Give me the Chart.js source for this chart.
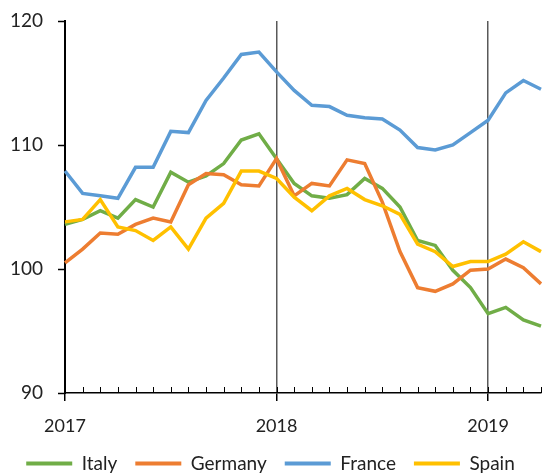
<!DOCTYPE html>
<html>
<head>
<meta charset="utf-8">
<script src="https://cdn.jsdelivr.net/npm/chart.js@4/dist/chart.umd.min.js"></script>
<style>
  html, body { margin: 0; padding: 0; background: #fff; }
  #wrap { width: 558px; height: 474px; position: relative; }
</style>
</head>
<body>
<div id="wrap"><canvas id="chart"></canvas></div>
<script>
// --- Data ---
const months = [
    'Jan 17', 'Feb 17', 'Mar 17', 'Apr 17', 'May 17', 'Jun 17', 'Jul 17', 'Aug 17', 'Sep 17', 'Oct 17', 'Nov 17', 'Dec 17',
    'Jan 18', 'Feb 18', 'Mar 18', 'Apr 18', 'May 18', 'Jun 18', 'Jul 18', 'Aug 18', 'Sep 18', 'Oct 18', 'Nov 18', 'Dec 18',
    'Jan 19', 'Feb 19', 'Mar 19', 'Apr 19'
];
const yearLabels = { 'Jan 17': '2017', 'Jan 18': '2018', 'Jan 19': '2019' };

const italy = [103.6, 104.0, 104.7, 104.1, 105.6, 105.0, 107.8, 107.0, 107.5, 108.5, 110.4, 110.9,
               108.9, 106.9, 105.9, 105.7, 106.0, 107.3, 106.5, 105.0, 102.3, 101.9, 99.9, 98.5,
               96.4, 96.9, 95.9, 95.4];
const germany = [100.5, 101.6, 102.9, 102.8, 103.6, 104.1, 103.8, 106.8, 107.7, 107.6, 106.8, 106.7,
                 108.9, 105.9, 106.9, 106.7, 108.8, 108.5, 105.4, 101.4, 98.5, 98.2, 98.8, 99.9,
                 100.0, 100.8, 100.1, 98.8];
const france = [107.9, 106.1, 105.9, 105.7, 108.2, 108.2, 111.1, 111.0, 113.6, 115.4, 117.3, 117.5,
                115.9, 114.4, 113.2, 113.1, 112.4, 112.2, 112.1, 111.2, 109.8, 109.6, 110.0, 111.0,
                112.0, 114.2, 115.2, 114.5];
const spain = [103.8, 104.0, 105.6, 103.4, 103.1, 102.3, 103.4, 101.6, 104.1, 105.3, 107.9, 107.9,
               107.3, 105.8, 104.7, 105.9, 106.5, 105.6, 105.1, 104.4, 102.0, 101.4, 100.2, 100.6,
               100.6, 101.2, 102.2, 101.4];

const yTicks = [90, 100, 110, 120];

const FONT = 'Lato, "DejaVu Sans", sans-serif';

const layoutTweaks = {
    id: 'layoutTweaks',
    afterInit(chart) {
        // fixed legend height so the plot gets the room it has in the original
        const legend = chart.legend;
        const fit = legend.fit.bind(legend);
        legend.fit = function () {
            fit();
            this.height = 38;
        };
    },
    // short inward tick marks for every month on the x axis
    afterDatasetsDraw(chart) {
        const x = chart.scales.x;
        const c = chart.ctx;
        const bottom = chart.chartArea.bottom;
        c.save();
        c.strokeStyle = '#000';
        c.lineWidth = 1;
        months.forEach((m, i) => {
            if (i === 0) return;
            const px = Math.round(x.getPixelForValue(i)) + 0.5;
            c.beginPath();
            c.moveTo(px, bottom);
            c.lineTo(px, bottom - 6);
            c.stroke();
        });
        c.restore();
    }
};

function series(label, data, color, order) {
    return {
        label: label,
        data: data,
        borderColor: color,
        backgroundColor: color,
        borderWidth: 3.5,
        pointRadius: 0,
        tension: 0,
        order: order
    };
}

new Chart(document.getElementById('chart'), {
    type: 'line',
    data: {
        labels: months,
        datasets: [
            series('Italy', italy, '#70AD47', 4),
            series('Germany', germany, '#ED7D31', 3),
            series('France', france, '#5B9BD5', 2),
            series('Spain', spain, '#FFC000', 1)
        ]
    },
    options: {
        responsive: true,
        maintainAspectRatio: false,
        animation: false,
        layout: { padding: { top: 21, right: 17, left: 0, bottom: 0 } },
        scales: {
            x: {
                type: 'category',
                offset: false,
                afterFit: (s) => { s.height = 43; },
                border: { color: '#000', width: 1.5 },
                grid: {
                    offset: false,
                    lineWidth: 1.5,
                    color: (ctx) => (ctx.index === 12 || ctx.index === 24) ? '#595959' : 'rgba(0,0,0,0)',
                    tickColor: (ctx) => yearLabels[months[ctx.index]] ? '#000' : 'rgba(0,0,0,0)',
                    tickLength: 8,
                    tickWidth: 1.5
                },
                ticks: {
                    autoSkip: false,
                    maxRotation: 0,
                    padding: 14,
                    color: '#222',
                    font: { family: FONT, size: 18 },
                    callback: (v, i) => yearLabels[months[i]] || ''
                }
            },
            y: {
                min: 90,
                max: 120,
                afterBuildTicks: (axis) => { axis.ticks = yTicks.map(v => ({ value: v })); },
                afterFit: (s) => { s.width = 65; s.paddingTop = 0; },
                border: { color: '#000', width: 2 },
                grid: {
                    drawOnChartArea: false,
                    tickColor: '#000',
                    tickLength: 7,
                    tickWidth: 1.5
                },
                ticks: {
                    padding: 15,
                    color: '#222',
                    font: { family: FONT, size: 19 }
                }
            }
        },
        plugins: {
            legend: {
                position: 'bottom',
                labels: {
                    boxWidth: 46,
                    boxHeight: 4,
                    padding: 18,
                    color: '#222',
                    font: { family: FONT, size: 19 },
                    sort: (a, b) => a.datasetIndex - b.datasetIndex,
                    generateLabels: (chart) => Chart.defaults.plugins.legend.labels.generateLabels(chart)
                        .map(l => Object.assign(l, { lineWidth: 0 }))
                }
            },
            tooltip: { enabled: false }
        }
    },
    plugins: [layoutTweaks]
});
</script>
</body>
</html>
